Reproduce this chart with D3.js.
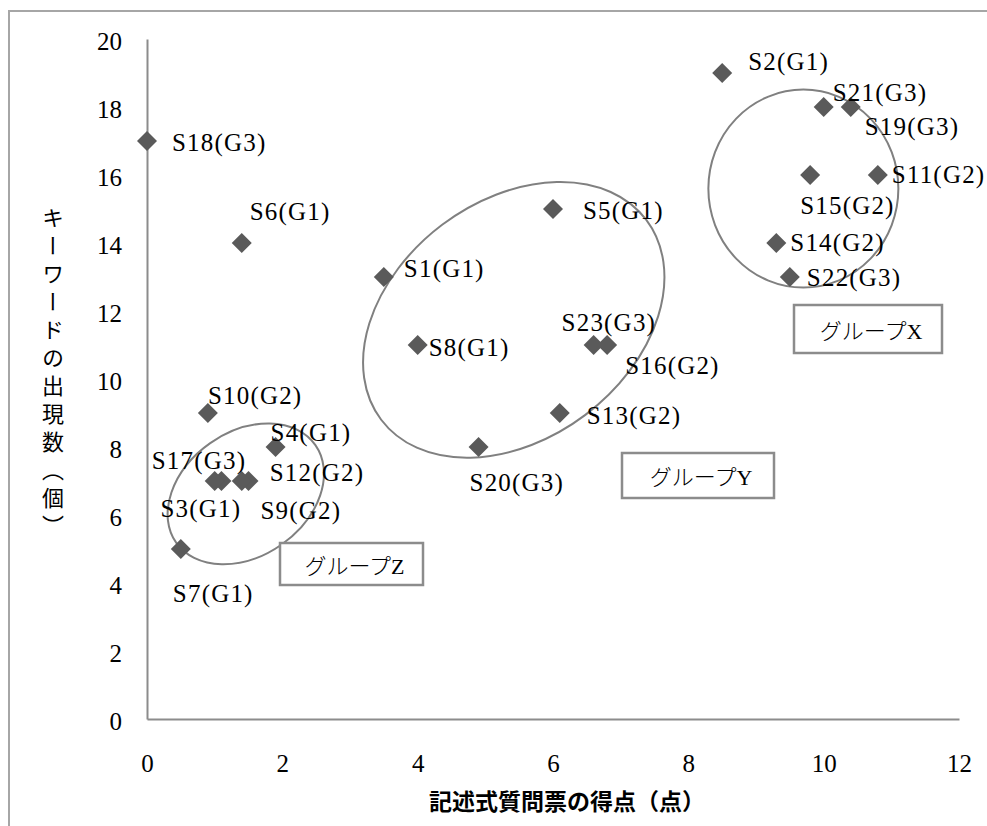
<!DOCTYPE html>
<html><head><meta charset="utf-8">
<script src="https://cdn.jsdelivr.net/npm/d3@7"></script>
<style>
html,body{margin:0;padding:0;background:#fff;}
svg{display:block;}
</style></head>
<body>
<svg id="chart" width="987" height="826"></svg>
<script>
// ---- data ----
const names = ["S1(G1)","S2(G1)","S3(G1)","S4(G1)","S5(G1)","S6(G1)","S7(G1)","S8(G1)",
  "S9(G2)","S10(G2)","S11(G2)","S12(G2)","S13(G2)","S14(G2)","S15(G2)","S16(G2)",
  "S17(G3)","S18(G3)","S19(G3)","S20(G3)","S21(G3)","S22(G3)","S23(G3)"];
const scores   = [3.5, 8.5, 1.1, 1.9, 6.0, 1.4, 0.5, 4.0, 1.5, 0.9, 10.8, 1.4, 6.1, 9.3, 9.8, 6.8, 1.0, 0.0, 10.4, 4.9, 10.0, 9.5, 6.6];
const keywords = [13, 19, 7, 8, 15, 14, 5, 11, 7, 9, 16, 7, 9, 14, 16, 11, 7, 17, 18, 8, 18, 13, 11];
const xTicks = [0, 2, 4, 6, 8, 10, 12];
const yTicks = [0, 2, 4, 6, 8, 10, 12, 14, 16, 18, 20];
const xTitle = "記述式質問票の得点（点）";
const yTitle = "キーワードの出現数（個）";
const groupNames = ["グループX", "グループY", "グループZ"];
const groupCenterX = [9.7, 5.42, 1.46];
const groupCenterY = [15.6, 11.74, 6.62];

// ---- layout ----
const svg = d3.select("#chart");
const x = d3.scaleLinear().domain([0, 12]).range([147, 959]);
const y = d3.scaleLinear().domain([0, 20]).range([719, 39]);
const serif = "'Liberation Serif', 'Noto Sans CJK JP', serif";
const grey = "#8c8c8c";

// outer chart border
svg.append("rect").attr("x", 9).attr("y", 11).attr("width", 1000).attr("height", 900)
  .attr("fill", "none").attr("stroke", "#a6a6a6").attr("stroke-width", 2);

// axes
const gx = svg.append("g").attr("transform", `translate(0,${y(0)})`)
  .call(d3.axisBottom(x).tickValues(xTicks).tickSize(0).tickPadding(0).tickFormat(d3.format("d")));
gx.select(".domain").attr("stroke", grey).attr("stroke-width", 2);
gx.selectAll("text").attr("y", 44).attr("dy", null).attr("dominant-baseline", "central")
  .attr("font-family", serif).attr("font-size", 25).attr("fill", "#000");

const gy = svg.append("g").attr("transform", `translate(${x(0)},0)`)
  .call(d3.axisLeft(y).tickValues(yTicks).tickSize(0).tickPadding(0).tickFormat(d3.format("d")));
gy.select(".domain").attr("stroke", grey).attr("stroke-width", 2);
gy.selectAll("text").attr("x", -25).attr("dy", null).attr("dominant-baseline", "central")
  .attr("transform", "translate(0,2)")
  .attr("font-family", serif).attr("font-size", 25).attr("fill", "#000");

// axis titles
svg.append("text").attr("x", 567).attr("y", 800).attr("text-anchor", "middle")
  .attr("dominant-baseline", "central")
  .attr("font-family", "'Noto Sans CJK JP', sans-serif").attr("font-size", 23).attr("font-weight", 700)
  .text(xTitle);

svg.append("text")
  .attr("x", 53).attr("y", 207)
  .style("writing-mode", "vertical-rl")
  .style("text-orientation", "upright")
  .style("font-feature-settings", "'vert' 1")
  .style("letter-spacing", "6px")
  .attr("font-family", "'Noto Sans CJK JP', sans-serif").attr("font-size", 22)
  .text(yTitle);

// group ellipses
const ellShape = [{rx: 95, ry: 99, rot: 0}, {rx: 166, ry: 119, rot: -37}, {rx: 85, ry: 62, rot: -35}];
svg.append("g").selectAll("ellipse").data(groupNames).join("ellipse")
  .attr("transform", (d, i) => `translate(${x(groupCenterX[i])},${y(groupCenterY[i])}) rotate(${ellShape[i].rot})`)
  .attr("rx", (d, i) => ellShape[i].rx).attr("ry", (d, i) => ellShape[i].ry)
  .attr("fill", "none").attr("stroke", "#808080").attr("stroke-width", 2);

// group label boxes
const boxes = [{x: 794, y: 305, w: 148, h: 48}, {x: 622, y: 453, w: 152, h: 45}, {x: 280, y: 543, w: 143, h: 42}];
const gb = svg.append("g").selectAll("g").data(groupNames).join("g")
  .attr("transform", (d, i) => `translate(${boxes[i].x},${boxes[i].y})`);
gb.append("rect").attr("width", (d, i) => boxes[i].w).attr("height", (d, i) => boxes[i].h)
  .attr("fill", "#fff").attr("stroke", "#8c8c8c").attr("stroke-width", 2.5);
gb.append("text").attr("x", (d, i) => boxes[i].w / 2 + 3).attr("y", (d, i) => boxes[i].h / 2 + 2)
  .attr("text-anchor", "middle").attr("dominant-baseline", "central")
  .attr("font-family", serif).attr("font-size", 22).attr("font-weight", 300)
  .text(d => d);

// points
const pts = names.map((n, i) => ({name: n, sx: scores[i], ky: keywords[i]}));
svg.append("g").selectAll("path").data(pts).join("path")
  .attr("d", d3.symbol(d3.symbolSquare, 200))
  .attr("transform", d => `translate(${x(d.sx)},${y(d.ky)}) rotate(45)`)
  .attr("fill", "#5a5a5a");

// data labels (pixel offsets from their point)
const off = {
  "S1(G1)": [20, -9], "S2(G1)": [26, -12], "S3(G1)": [-61, 27], "S4(G1)": [-5, -15],
  "S5(G1)": [30, 1], "S6(G1)": [8, -32], "S7(G1)": [-8, 44], "S8(G1)": [11, 2],
  "S9(G2)": [12, 29], "S10(G2)": [0, -18], "S11(G2)": [14, -1], "S12(G2)": [28, -9],
  "S13(G2)": [27, 2], "S14(G2)": [14, -1], "S15(G2)": [-10, 30], "S16(G2)": [18, 20],
  "S17(G3)": [-63, -21], "S18(G3)": [25, 1], "S19(G3)": [14, 19], "S20(G3)": [-9, 35],
  "S21(G3)": [9, -15], "S22(G3)": [17, 0], "S23(G3)": [-32, -23]
};
svg.append("g").selectAll("text").data(pts).join("text")
  .attr("x", d => x(d.sx) + off[d.name][0])
  .attr("y", d => y(d.ky) + off[d.name][1])
  .attr("dominant-baseline", "central")
  .style("letter-spacing", "1.2px")
  .attr("font-family", serif).attr("font-size", 25).attr("fill", "#000")
  .text(d => d.name);
</script>
</body></html>
